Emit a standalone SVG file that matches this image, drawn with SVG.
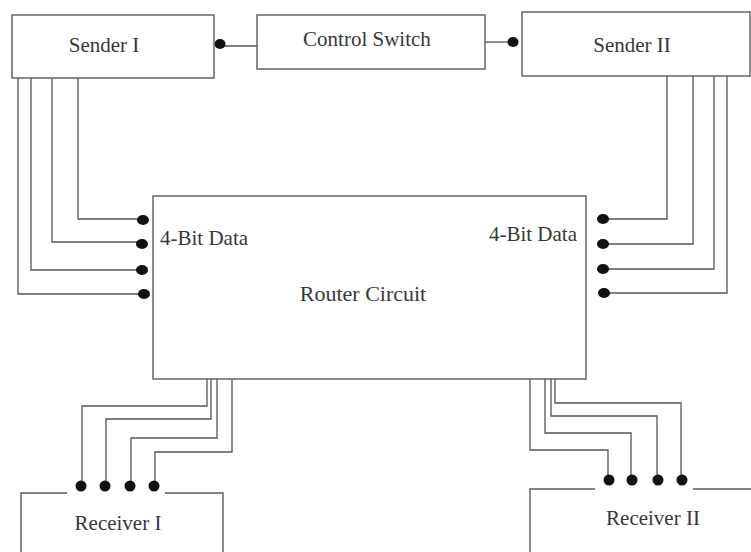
<svg xmlns="http://www.w3.org/2000/svg" width="751" height="552" viewBox="0 0 751 552">
  <style>
    .box { fill: #ffffff; stroke: #5a5a5a; stroke-width: 1.4; }
    .edge { fill: none; stroke: #5a5a5a; stroke-width: 1.4; }
    .wire { fill: none; stroke: #555555; stroke-width: 1.3; }
    .dot { fill: #111111; }
    .label { font-family: 'Liberation Serif', 'DejaVu Serif', serif; font-size: 21px; fill: #383838; }
  </style>
  <rect width="751" height="552" fill="#ffffff"/>

  <!-- Connectors -->
  <g id="connectors">
    <!-- control links -->
    <path class="wire" d="M220 46 H257"/>
    <path class="wire" d="M485 42 H513"/>
    <!-- Sender I to router, 4 bits -->
    <path class="wire" d="M78 78 V219 H143"/>
    <path class="wire" d="M52 78 V242 H143"/>
    <path class="wire" d="M31 78 V270 H143"/>
    <path class="wire" d="M18 78 V294 H143"/>
    <!-- Sender II to router, 4 bits -->
    <path class="wire" d="M667 76 V219 H603"/>
    <path class="wire" d="M693 76 V244 H603"/>
    <path class="wire" d="M714 76 V269 H603"/>
    <path class="wire" d="M727 76 V293 H603"/>
    <!-- router to Receiver I -->
    <path class="wire" d="M207 379 V406 H82 V486"/>
    <path class="wire" d="M211 379 V419 H106 V486"/>
    <path class="wire" d="M217 379 V438 H131 V486"/>
    <path class="wire" d="M232 379 V452 H155 V486"/>
    <!-- router to Receiver II -->
    <path class="wire" d="M530 379 V450 H608 V480"/>
    <path class="wire" d="M545 379 V433 H631 V480"/>
    <path class="wire" d="M551 379 V416 H657 V480"/>
    <path class="wire" d="M555 379 V403 H681 V480"/>

    <!-- terminal dots -->
    <ellipse class="dot" cx="220" cy="44" rx="5.5" ry="5"/>
    <ellipse class="dot" cx="513" cy="42" rx="5.5" ry="5"/>
    <ellipse class="dot" cx="143" cy="220" rx="6" ry="5"/>
    <ellipse class="dot" cx="142" cy="244" rx="6" ry="5"/>
    <ellipse class="dot" cx="142" cy="270" rx="6" ry="5"/>
    <ellipse class="dot" cx="144" cy="294" rx="6" ry="5"/>
    <ellipse class="dot" cx="603" cy="219" rx="6" ry="5"/>
    <ellipse class="dot" cx="603" cy="244" rx="6" ry="5"/>
    <ellipse class="dot" cx="603" cy="269" rx="6" ry="5"/>
    <ellipse class="dot" cx="604" cy="293" rx="6" ry="5"/>
    <circle class="dot" cx="81" cy="486" r="5.5"/>
    <circle class="dot" cx="105" cy="486" r="5.5"/>
    <circle class="dot" cx="130" cy="486" r="5.5"/>
    <circle class="dot" cx="154" cy="486" r="5.5"/>
    <circle class="dot" cx="609" cy="480" r="5.5"/>
    <circle class="dot" cx="632" cy="480" r="5.5"/>
    <circle class="dot" cx="658" cy="480" r="5.5"/>
    <circle class="dot" cx="682" cy="480" r="5.5"/>
  </g>

  <g id="sender1">
    <rect class="box" x="12" y="15" width="202" height="63"/>
    <text class="label" x="104" y="52" text-anchor="middle">Sender I</text>
  </g>

  <g id="control-switch">
    <rect class="box" x="257" y="15" width="228" height="54"/>
    <text class="label" x="367" y="46" text-anchor="middle">Control Switch</text>
  </g>

  <g id="sender2">
    <rect class="box" x="522" y="12" width="228" height="64"/>
    <text class="label" x="632" y="52" text-anchor="middle">Sender II</text>
  </g>

  <g id="router">
    <rect class="box" x="153" y="196" width="433" height="183" fill="none"/>
    <text class="label" x="160" y="245">4-Bit Data</text>
    <text class="label" x="577" y="241" text-anchor="end">4-Bit Data</text>
    <text class="label" x="363" y="301" text-anchor="middle" style="font-size:22px">Router Circuit</text>
  </g>

  <g id="receiver1">
    <path class="edge" d="M67 493 H21 V552 M165 493 H223 V552"/>
    <text class="label" x="118" y="530" text-anchor="middle">Receiver I</text>
  </g>

  <g id="receiver2">
    <path class="edge" d="M595 489 H530 V552 M693 489 H751"/>
    <text class="label" x="653" y="525" text-anchor="middle">Receiver II</text>
  </g>
</svg>
